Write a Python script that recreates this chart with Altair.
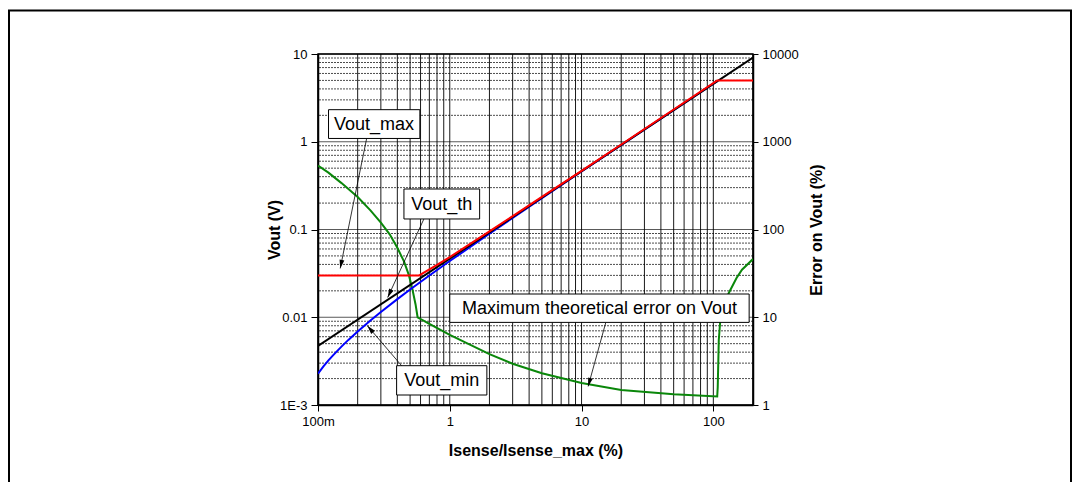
import altair as alt
import pandas as pd

FONT = "Liberation Sans"

# ---- curves ----
th_x = [0.1, 200]
th_y = [0.0047, 9.1]

max_x = [0.1, 0.586, 0.8, 1, 2, 5, 10, 20, 50, 107, 200]
max_y = [0.03, 0.03, 0.0395, 0.0485, 0.095, 0.235, 0.465, 0.93, 2.33, 5.0, 5.0]

min_x = [0.1, 0.11, 0.12, 0.13, 0.15, 0.17, 0.2, 0.25, 0.3, 0.4, 0.5, 0.7, 1, 2, 5, 10, 107]
min_y = [0.00228, 0.00276, 0.00322, 0.00368, 0.0046, 0.00552, 0.0069, 0.0092, 0.0115, 0.0161,
         0.0207, 0.0299, 0.0437, 0.0897, 0.228, 0.458, 4.9]

err_x = [0.1, 0.12, 0.15, 0.2, 0.25, 0.3, 0.35, 0.4, 0.45, 0.49, 0.52, 0.55, 0.57, 0.7, 1, 2, 3, 5,
         10, 20, 50, 107, 108, 110, 113, 120, 131, 150, 165, 200]
err_y = [534, 445, 340, 235, 165, 120, 88, 62, 43, 30, 21, 14, 10, 8.4, 6.3, 3.8, 2.95, 2.3,
         1.78, 1.48, 1.33, 1.25, 1.6, 5.5, 9.3, 13.5, 18.9, 28, 34.8, 46]

# ---- grid / ticks ----
x_grid = [0.1, 0.2, 0.3, 0.4, 0.5, 0.6, 0.7, 0.8, 0.9,
          1, 2, 3, 4, 5, 6, 7, 8, 9,
          10, 20, 30, 40, 50, 60, 70, 80, 90,
          100, 200]
y_major = [0.001, 0.01, 0.1, 1, 10]
y_minor = [0.002, 0.003, 0.004, 0.005, 0.006, 0.007, 0.008, 0.009,
           0.02, 0.03, 0.04, 0.05, 0.06, 0.07, 0.08, 0.09,
           0.2, 0.3, 0.4, 0.5, 0.6, 0.7, 0.8, 0.9,
           2, 3, 4, 5, 6, 7, 8, 9]
x_ticks = [0.1, 1, 10, 100]
err_ticks = [1, 10, 100, 1000, 10000]

# ---- annotations (data coordinates) ----
ann_text = ["Vout_max", "Vout_th", "Vout_min", "Maximum theoretical error on Vout"]
box_x1 = [0.1202, 0.449, 0.395, 1.0]
box_x2 = [0.593, 1.685, 1.912, 187]
box_y1 = [2.32, 0.2894, 0.002805, 0.0184]
box_y2 = [1.09, 0.1318, 0.0013, 0.00874]
txt_x = [0.266, 0.870, 0.870, 13.67]
txt_y = [1.59, 0.1953, 0.001906, 0.01268]
arr_x1 = [0.234, 0.636, 0.431, 15.28]
arr_y1 = [1.09, 0.1318, 0.002805, 0.00874]
arr_x2 = [0.1474, 0.338, 0.237, 11.22]
arr_y2 = [0.036, 0.0168, 0.0080, 0.00163]
arr_angle = [191.6, 204.8, 319.3, 195.5]

xscale = alt.Scale(type="log", domain=[0.1, 200], nice=False)
yscale = alt.Scale(type="log", domain=[0.001, 10], nice=False)
escale = alt.Scale(type="log", domain=[1, 10000], nice=False)

W, H = 435, 351

# one identical x axis definition shared by every layer (so the merge keeps it)
x_axis = alt.Axis(
    values=x_ticks, labelExpr="datum.value < 0.5 ? '100m' : format(datum.value, 'd')",
    title="Isense/Isense_max (%)", grid=False, tickSize=6, labelPadding=4,
    titleY=45, titleBaseline="middle", titleFontSize=16, titleFontWeight="bold",
    labelFontSize=13, labelFlush=False, orient="bottom",
)
y_axis = alt.Axis(
    values=y_major, orient="left",
    labelExpr="datum.value < 0.005 ? '1E-3' : format(datum.value, '~g')",
    title="Vout (V)", grid=False, tickSize=7, labelPadding=4,
    titleX=-44, titleBaseline="middle", titleAngle=270,
    titleFontSize=16, titleFontWeight="bold", labelFontSize=13, labelFlush=False,
)
e_axis = alt.Axis(
    values=err_ticks, format="d", orient="right",
    title="Error on Vout (%)", grid=False, tickSize=5, labelPadding=4,
    titleX=63, titleBaseline="middle", titleAngle=270,
    titleFontSize=16, titleFontWeight="bold", labelFontSize=13, labelFlush=False,
)


def X(field):
    return alt.X(field, scale=xscale, axis=x_axis)


frame = alt.Chart(pd.DataFrame({"a": [0]})).mark_rect(
    fill=None, stroke="black", strokeWidth=2
).encode(
    x=alt.value(-309), x2=alt.value(753), y=alt.value(-43.5), y2=alt.value(470)
)

vgrid = alt.Chart(pd.DataFrame({"g": x_grid})).mark_rule(
    color="black", strokeWidth=1, opacity=0.9
).encode(x=X("g:Q"))

hminor = alt.Chart(pd.DataFrame({"v": y_minor})).mark_rule(
    color="black", strokeWidth=1, strokeDash=[2, 1], opacity=0.7
).encode(y=alt.Y("v:Q", scale=yscale, axis=None))

hmajor = alt.Chart(pd.DataFrame({"v": y_major})).mark_rule(
    color="black", strokeWidth=1, opacity=0.65
).encode(y=alt.Y("v:Q", scale=yscale, axis=None))


def curve(xs, ys, color, axis=False):
    df = pd.DataFrame({"x": xs, "y": ys})
    return alt.Chart(df).mark_line(color=color, strokeWidth=2, clip=True).encode(
        x=X("x:Q"),
        y=alt.Y("y:Q", scale=yscale, axis=y_axis if axis else None),
    )


blue = curve(min_x, min_y, "#0000ff")
black = curve(th_x, th_y, "black", axis=True)
red = curve(max_x, max_y, "#ff0000")

ann = pd.DataFrame({
    "t": ann_text, "bx1": box_x1, "bx2": box_x2, "by1": box_y1, "by2": box_y2,
    "tx": txt_x, "ty": txt_y, "ax1": arr_x1, "ay1": arr_y1, "ax2": arr_x2,
    "ay2": arr_y2, "ang": arr_angle,
})

arrows = alt.Chart(ann).mark_rule(color="black", strokeWidth=0.8).encode(
    x=X("ax1:Q"), x2="ax2:Q",
    y=alt.Y("ay1:Q", scale=yscale, axis=None), y2="ay2:Q",
)
heads = alt.Chart(ann).mark_point(
    shape="M0,0L-0.28,1L0.28,1Z", filled=True, color="black", size=300, opacity=1
).encode(
    x=X("ax2:Q"),
    y=alt.Y("ay2:Q", scale=yscale, axis=None),
    angle=alt.Angle("ang:Q", scale=None),
)
boxes = alt.Chart(ann).mark_rect(fill="white", stroke="black", strokeWidth=1).encode(
    x=X("bx1:Q"), x2="bx2:Q",
    y=alt.Y("by1:Q", scale=yscale, axis=None), y2="by2:Q",
)
texts = alt.Chart(ann).mark_text(
    font=FONT, fontSize=18, color="black", align="center", baseline="middle", dy=1
).encode(
    x=X("tx:Q"),
    y=alt.Y("ty:Q", scale=yscale, axis=None),
    text="t:N",
)

green = alt.Chart(pd.DataFrame({"x": err_x, "e": err_y})).mark_line(
    color="#0a870a", strokeWidth=2, clip=True
).encode(
    x=X("x:Q"),
    y=alt.Y("e:Q", scale=escale, axis=e_axis),
)

chart = alt.layer(
    frame, vgrid, hminor, hmajor, green, blue, black, red, arrows, heads, boxes, texts
).resolve_scale(y="independent").properties(
    width=W, height=H,
    autosize="none",
    padding={"left": 310, "top": 46, "right": 319, "bottom": 77},
    background="white",
).configure_view(
    stroke="black", strokeWidth=1.5
).configure_axis(
    labelFont=FONT, titleFont=FONT, labelColor="black", titleColor="black",
    domainColor="black", tickColor="black", domainWidth=1.5, tickWidth=1, grid=False,
)

chart.save("out.html", embed_options={"renderer": "svg", "actions": False})
